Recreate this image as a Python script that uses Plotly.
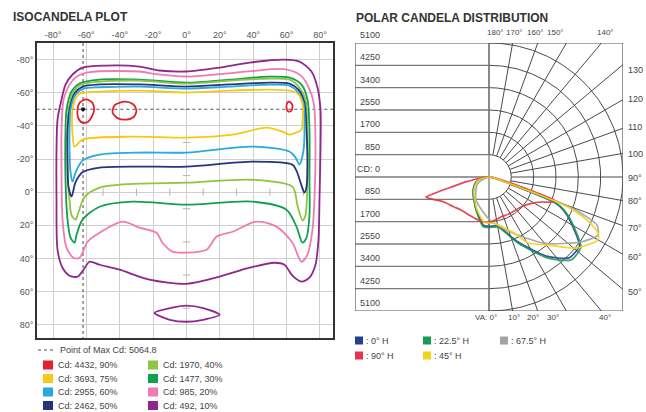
import numpy as np
import plotly.graph_objects as go

W, H = 646, 412

# ------------------------------------------------------------------
# ISOCANDELA PLOT data (horizontal angle deg, vertical angle deg)
# ------------------------------------------------------------------
tick_deg = [-80, -60, -40, -20, 0, 20, 40, 60, 80]
tick_text = ["-80°", "-60°", "-40°", "-20°", "0°", "20°", "40°", "60°", "80°"]
minor_deg = [-70, -50, -30, -10, 10, 30, 50, 70]

max_point_h = -62
max_point_v = -50
max_cd_label = "Point of Max Cd: 5064.8"

purple_10 = [(-74.9,-55.9),(-72.5,-64.9),(-68.3,-71),(-62.3,-75.2),(-47.9,-76.4),(-28.2,-75.8),
             (-16.2,-73.4),(0,-72.8),(19.8,-75.2),(37.7,-78.2),(58.7,-80),(67.7,-78.8),(74.9,-72.8),
             (78.5,-63.1),(80.3,-49.8),(80.3,-25.7),(79.7,4.5),(79.1,28.7),(77.3,43.8),(73.7,51.6),
             (68.9,54),(63.5,50.4),(58.7,43.8),(52.7,42.6),(37.7,45.6),(19.8,51),(0,55.3),(-22.2,52.8),
             (-40.1,46.8),(-52.1,43.8),(-58.1,42),(-61.7,46.8),(-65.3,51),(-70.1,50.4),(-74.3,45.6),
             (-77.3,34.7),(-77.9,4.5),(-77.9,-25.7),(-77.3,-43.8),(-74.9,-55.9)]
purple_lens = [(-19.2,72.8),(-10,70),(0,68.5),(10,70),(19.8,74),(10,77),(0,78.2),(-10,77),(-19.2,72.8)]

pink_20 = [(-73.7,-55.9),(-70.1,-64.9),(-65.9,-69.7),(-58.1,-72.4),(-28.2,-72.8),(-18,-71.2),(0,-69.7),
           (19.8,-71.2),(38.9,-73),(58.7,-74.2),(68.9,-70),(74.9,-58.9),(76.7,-49.8),(77.3,-25.7),
           (76.7,4.5),(75.5,22.6),(72.5,37.7),(68.9,42),(63.5,30.5),(53.9,20.8),(41.9,17.8),(27.6,23.9),
           (18,26.9),(12,34.7),(0,36.5),(-8.4,35.9),(-14.4,30.5),(-18,24.5),(-28.2,21.4),(-38.3,17.8),
           (-52.1,24.5),(-59.3,29.9),(-64.1,39.6),(-67.7,39.6),(-71.9,33.5),(-74.3,16.6),(-74.9,-13.6),
           (-74.9,-37.7),(-73.7,-55.9)]

green_30 = [(-71.9,-49.8),(-68.9,-60.7),(-64.1,-65.5),(-52.1,-67.9),(-28.2,-67.9),(0,-66.1),(25.8,-67.9),
            (49.7,-69.7),(61.7,-69.1),(68.9,-64.9),(72.5,-55.9),(73.7,-37.7),(73.7,-7.5),(73.7,13.6),
            (71.9,27.5),(69.5,30.5),(65.9,20.8),(59.9,10.6),(39.5,5.7),(0,7.5),(-32.4,5.7),(-52.1,8.8),
            (-62.3,16.6),(-65.9,25.7),(-67.1,30.5),(-69.5,27.5),(-71.3,16.6),(-72.5,-7.5),(-72.5,-37.7),
            (-71.9,-49.8)]

ltgreen_40 = [(-70.7,-49.8),(-67.7,-60.7),(-63.5,-64.9),(-52.1,-66.7),(-28.2,-67.3),(0,-65.5),(25.8,-67.3),
              (49.7,-68.5),(61.7,-67.9),(67.7,-63.1),(71.3,-55.9),(72.5,-37.7),(72.5,-10),(72.1,5),
              (71.3,14),(69.5,17),(66.5,8),(63.5,-3.3),(39.5,-7.5),(0,-5.7),(-32.4,-5),(-52.1,-2.7),
              (-61.1,3),(-64.7,12),(-66.5,16.6),(-68.9,14),(-70.1,5),(-71.3,-10),(-71.3,-37.7),(-70.7,-49.8)]

navy_50 = [(-70.1,-49.8),(-67.1,-59.5),(-62.3,-63.7),(-52.1,-65),(-28.2,-65),(0,-63.7),(25.8,-65),
           (49.7,-66.1),(61.7,-65.5),(67.1,-61.9),(70.7,-54.1),(71.9,-37.7),(72.5,-15),(71.9,-3),
           (70.7,0.3),(68.3,-6),(65.9,-13),(63.5,-16.6),(39.5,-18.4),(0,-15.4),(-28,-15.4),(-52.1,-14.8),
           (-62.3,-12),(-66.5,-6),(-68.9,2.7),(-70.7,-3),(-71.3,-20),(-71.3,-37.7),(-70.1,-49.8)]

cyan_60 = [(-69.5,-49.8),(-66.5,-58.9),(-61.7,-62.5),(-52.1,-63.3),(-28.2,-63.7),(0,-62.5),(25.8,-63.7),
           (49.7,-64.9),(61.7,-64.3),(66.5,-60.7),(70.1,-53.5),(70.7,-37.7),(70.1,-25),(67.7,-16.6),
           (65.3,-21),(61.7,-24.5),(39.5,-27.5),(0,-23.9),(-28,-23.9),(-52.1,-22.6),(-62.3,-19),
           (-66.5,-12),(-68.3,-6.3),(-69.5,-12),(-70.1,-25),(-70.1,-37.7),(-69.5,-49.8)]

yellow_75 = [(-68.3,-50),(-66.5,-56.5),(-64.1,-59.5),(-52.1,-60.7),(-28.2,-61.3),(0,-60.1),(25.8,-61.3),
             (49.7,-61.9),(61.7,-61.3),(66.5,-59.5),(69.5,-53.5),(69.5,-42),(68.9,-37.7),(64.5,-35.5),
             (61.7,-34.7),(57.5,-36.5),(47.9,-38.9),(27.6,-34.7),(0,-32.9),(-32.4,-33.5),(-62.3,-31.7),
             (-67.1,-27.5),(-68.3,-35),(-68.3,-50)]

red_90_a = [(-60,-56),(-56.5,-54),(-55.3,-50),(-56.5,-46),(-59,-42.5),(-62.5,-42),(-65,-45),(-65.3,-50),(-64,-54),(-60,-56)]
red_90_b = [(-37,-54.6),(-32,-53),(-30,-49.5),(-31.5,-45.5),(-36,-43.8),(-41,-44.5),(-44.3,-48),(-43,-52.5),(-37,-54.6)]
red_90_c = [(61.7,-54.6),(63.5,-52.5),(62.9,-49.2),(61.1,-48.6),(59.9,-51),(60.5,-54),(61.7,-54.6)]

iso_labels = ["Cd: 4432, 90%", "Cd: 3693, 75%", "Cd: 2955, 60%", "Cd: 2462, 50%",
              "Cd: 1970, 40%", "Cd: 1477, 30%", "Cd: 985, 20%", "Cd: 492, 10%"]
iso_colors = ["#e3202b", "#f6c913", "#2aa8e0", "#27337f", "#8dc63f", "#12a04f", "#f07bb0", "#90278e"]

# ------------------------------------------------------------------
# POLAR CANDELA DISTRIBUTION data (vertical angle deg, candela)
# negative VA = opposite half-plane (drawn on the left)
# ------------------------------------------------------------------
rings_cd = [850, 1700, 2550, 3400, 4250, 5100]
va_grid = list(range(0, 190, 10))

va_90 = [-90,-83,-78,-75,-73.5,-72.4,-70,-65,-60.9,-50,-40.3,-25,-14.3,0,16.7,30,46.8,58,64.3,69,70.5,72,75,80,90]
cd_90 = [0,300,900,1500,2100,2516,2400,2120,1960,1760,1647,1640,1690,1732,1590,1600,1670,1900,2196,2650,2630,1700,700,200,0]

va_0 = [-90,-75,-60,-45,-21.5,-6.8,0,10.2,23.7,36,44.7,52.7,59.5,64,67.4,69,70.5,73,80,90]
cd_0 = [0,420,640,850,1330,1850,1880,1900,2680,3720,4330,4330,3700,3300,2930,2620,1550,680,140,0]

va_225 = [-90,-75,-60,-45,-21.5,-6.8,0,10.2,23.7,36,44.7,52.7,59.5,64,67.4,69,70.5,73,80,90]
cd_225 = [0,430,650,860,1350,1900,1920,1934,2743,3815,4441,4400,3754,3350,2969,2650,1600,700,150,0]

va_45 = [-90,-75,-60,-45,-21,-7,0,7.9,24,30.6,41,50,52.7,60,62.8,64.5,67,69.2,70.5,72,80,90]
cd_45 = [0,400,600,820,1300,1700,1750,1800,2334,2918,3427,4217,4400,4792,4665,4427,3900,3216,2000,900,200,0]

va_675 = [-90,-60,-30,0,20,40,55,62,66,69,71,75,90]
cd_675 = [0,500,1000,1600,2200,3300,4300,4700,4500,3600,2300,600,0]

polar_planes = [
    (": 0° H", "#24408e", va_0, cd_0),
    (": 22.5° H", "#1a9a55", va_225, cd_225),
    (": 67.5° H", "#a3a3a3", va_675, cd_675),
    (": 90° H", "#e6334b", va_90, cd_90),
    (": 45° H", "#f3d21c", va_45, cd_45),
]

# ------------------------------------------------------------------
FONT = "Liberation Sans"
TXT = "#444444"
fig = go.Figure()

def px_x(p):
    return p / W

def px_y(p):
    return 1 - p / H

def loop_xy(pairs_list):
    xs, ys = [], []
    for pairs in pairs_list:
        xs += [p[0] for p in pairs] + [None]
        ys += [p[1] for p in pairs] + [None]
    return xs, ys

# --- isocandela: minor cross ticks on centre lines
mx, my = [], []
for d in minor_deg:
    mx += [-2.2, 2.2, None]
    my += [d, d, None]
    mx += [d, d, None]
    my += [-2.2, 2.2, None]
fig.add_trace(go.Scatter(x=mx, y=my, mode="lines", line=dict(color="#b5b5b5", width=1),
                         hoverinfo="skip", showlegend=False, xaxis="x", yaxis="y"))

# max point reference lines
fig.add_trace(go.Scatter(x=[max_point_h, max_point_h], y=[-90, 88], mode="lines",
                         line=dict(color="#666", width=1.2, dash="dot"),
                         hoverinfo="skip", showlegend=False, xaxis="x", yaxis="y"))
fig.add_trace(go.Scatter(x=[-90, 88], y=[max_point_v, max_point_v], mode="lines",
                         line=dict(color="#555", width=1.1, dash="3px,3px"),
                         hoverinfo="skip", showlegend=False, xaxis="x", yaxis="y"))

contours = [
    ([purple_10, purple_lens], iso_colors[7]),
    ([pink_20], iso_colors[6]),
    ([green_30], iso_colors[5]),
    ([ltgreen_40], iso_colors[4]),
    ([navy_50], iso_colors[3]),
    ([cyan_60], iso_colors[2]),
    ([yellow_75], iso_colors[1]),
    ([red_90_a, red_90_b, red_90_c], iso_colors[0]),
]
for loops, col in contours:
    xs, ys = loop_xy(loops)
    fig.add_trace(go.Scatter(x=xs, y=ys, mode="lines", line=dict(color=col, width=1.8, shape="spline", smoothing=0.8),
                             hoverinfo="skip", showlegend=False, xaxis="x", yaxis="y"))

fig.add_trace(go.Scatter(x=[max_point_h], y=[max_point_v], mode="markers",
                         marker=dict(color="#111", size=4), hoverinfo="skip",
                         showlegend=False, xaxis="x", yaxis="y"))

# --- polar grid
R = rings_cd[-1]
R_IN = rings_cd[0]
gx, gy = [], []
for a in va_grid:
    t = np.radians(a)
    dx, dy = np.sin(t), -np.cos(t)
    rmax = R / max(abs(dx), abs(dy))
    gx += [R_IN * dx, rmax * dx, None]
    gy += [R_IN * dy, rmax * dy, None]
th = np.radians(np.linspace(0, 180, 181))
for r in rings_cd:
    gx += list(r * np.sin(th)) + [None]
    gy += list(-r * np.cos(th)) + [None]
fig.add_trace(go.Scatter(x=gx, y=gy, mode="lines", line=dict(color="#4a4a4a", width=1),
                         hoverinfo="skip", showlegend=False, xaxis="x2", yaxis="y2"))

hx, hy = [], []
for k in range(-5, 6):
    hx += [-R, 0, None]
    hy += [k * 850, k * 850, None]
hx += [0, 0, None]
hy += [-R, R, None]
fig.add_trace(go.Scatter(x=hx, y=hy, mode="lines", line=dict(color="#7a7a7a", width=1.3),
                         hoverinfo="skip", showlegend=False, xaxis="x2", yaxis="y2"))

# polar curves
for name, col, va, cd in polar_planes:
    t = np.radians(np.array(va, dtype=float))
    c = np.array(cd, dtype=float)
    fig.add_trace(go.Scatter(x=c * np.sin(t), y=-c * np.cos(t), mode="lines",
                             line=dict(color=col, width=1.7, shape="spline", smoothing=0.6),
                             opacity=0.9, hoverinfo="skip", showlegend=False,
                             xaxis="x2", yaxis="y2"))

# ------------------------------------------------------------------
shapes = []
annotations = []

# polar box
shapes.append(dict(type="rect", xref="x2", yref="y2", x0=-R, x1=R, y0=-R, y1=R,
                   line=dict(color="#555", width=1.2), layer="above"))

# titles
annotations.append(dict(text="<b>ISOCANDELA PLOT</b>", x=px_x(11), y=px_y(17), xref="paper", yref="paper",
                        xanchor="left", yanchor="middle", showarrow=False,
                        font=dict(family=FONT, size=12, color="#333")))
annotations.append(dict(text="<b>POLAR CANDELA DISTRIBUTION</b>", x=px_x(354), y=px_y(18), xref="paper",
                        yref="paper", xanchor="left", yanchor="middle", showarrow=False,
                        font=dict(family=FONT, size=12, color="#333")))

small = dict(family=FONT, size=9, color=TXT)
ang = dict(family=FONT, size=8, color=TXT)

# candela labels on the left half of the polar chart
cd_values = [k * 850 for k in range(6, -7, -1)]
for v in cd_values:
    txt = "CD: 0" if v == 0 else str(abs(v))
    annotations.append(dict(text=txt, x=-4070, y=v, xref="x2", yref="y2", xanchor="right",
                            yanchor="bottom", yshift=1, showarrow=False, font=small))

# angle labels
top_lbl = [("180°", 495.5), ("170°", 514.5), ("160°", 535), ("150°", 555), ("140°", 605)]
for t_, p in top_lbl:
    annotations.append(dict(text=t_, x=px_x(p), y=px_y(33), xref="paper", yref="paper",
                            xanchor="center", yanchor="middle", showarrow=False, font=ang))
bot_lbl = [("10°", 514), ("20°", 533), ("30°", 553), ("40°", 605)]
annotations.append(dict(text="VA: 0°", x=px_x(499), y=px_y(317), xref="paper", yref="paper",
                        xanchor="right", yanchor="middle", showarrow=False, font=ang))
for t_, p in bot_lbl:
    annotations.append(dict(text=t_, x=px_x(p), y=px_y(317), xref="paper", yref="paper",
                            xanchor="center", yanchor="middle", showarrow=False, font=ang))
right_lbl = [("130", 70), ("120", 99), ("110", 127), ("100", 154), ("90°", 178),
             ("80°", 201), ("70°", 228), ("60°", 257), ("50°", 292)]
for t_, p in right_lbl:
    annotations.append(dict(text=t_, x=px_x(626), y=px_y(p), xref="paper", yref="paper",
                            xanchor="left", yanchor="middle", showarrow=False, font=small))

# isocandela legend
shapes.append(dict(type="line", xref="paper", yref="paper", x0=px_x(38), x1=px_x(55),
                   y0=px_y(350), y1=px_y(350), line=dict(color="#7d8aa3", width=1.5, dash="dot")))
annotations.append(dict(text=max_cd_label, x=px_x(58), y=px_y(350), xref="paper", yref="paper",
                        xanchor="left", yanchor="middle", showarrow=False, font=small))
row_py = [365, 378.5, 392, 405.5]
for i, (lab, col) in enumerate(zip(iso_labels, iso_colors)):
    cx = 43 if i < 4 else 148
    cy = row_py[i % 4]
    shapes.append(dict(type="rect", xref="paper", yref="paper", x0=px_x(cx), x1=px_x(cx + 10),
                       y0=px_y(cy - 4.5), y1=px_y(cy + 4.5), fillcolor=col, line=dict(width=0)))
    annotations.append(dict(text=lab, x=px_x(cx + 13), y=px_y(cy), xref="paper", yref="paper",
                            xanchor="left", yanchor="middle", showarrow=False, font=small))

# polar legend
pol_pos = [(355, 340.5), (423, 340.5), (500, 340.5), (355, 355.5), (423, 355.5)]
for (name, col, va, cd), (lx, ly) in zip(polar_planes, pol_pos):
    shapes.append(dict(type="rect", xref="paper", yref="paper", x0=px_x(lx), x1=px_x(lx + 8),
                       y0=px_y(ly - 4), y1=px_y(ly + 4), fillcolor=col, line=dict(width=0)))
    annotations.append(dict(text=name, x=px_x(lx + 9), y=px_y(ly), xref="paper", yref="paper",
                            xanchor="left", yanchor="middle", showarrow=False, font=small))

axis_font = dict(family=FONT, size=9, color="#555")
fig.update_layout(
    width=W, height=H, margin=dict(l=0, r=0, t=0, b=0),
    paper_bgcolor="white", plot_bgcolor="white",
    showlegend=False,
    xaxis=dict(domain=[px_x(37), px_x(333)], range=[-89.6, 87.8], side="top",
               tickvals=tick_deg, ticktext=tick_text, tickfont=axis_font,
               showgrid=True, gridcolor="#cfcfcf", gridwidth=1, zeroline=False,
               showline=True, mirror=True, linecolor="#333", linewidth=1.5, ticks="",
               fixedrange=True),
    yaxis=dict(domain=[px_y(338), px_y(43)], range=[88, -90],
               tickvals=tick_deg, ticktext=tick_text, tickfont=axis_font,
               showgrid=True, gridcolor="#cfcfcf", gridwidth=1, zeroline=False,
               showline=True, mirror=True, linecolor="#333", linewidth=1.5, ticks="",
               fixedrange=True),
    xaxis2=dict(domain=[px_x(355), px_x(623)], range=[-R, R], visible=False, fixedrange=True),
    yaxis2=dict(domain=[px_y(311), px_y(43)], range=[-R, R], visible=False, fixedrange=True),
    shapes=shapes, annotations=annotations,
)

fig.write_html("out.html", config={"displayModeBar": False},
               post_script="document.body.style.margin='0';document.body.style.overflow='hidden';")
